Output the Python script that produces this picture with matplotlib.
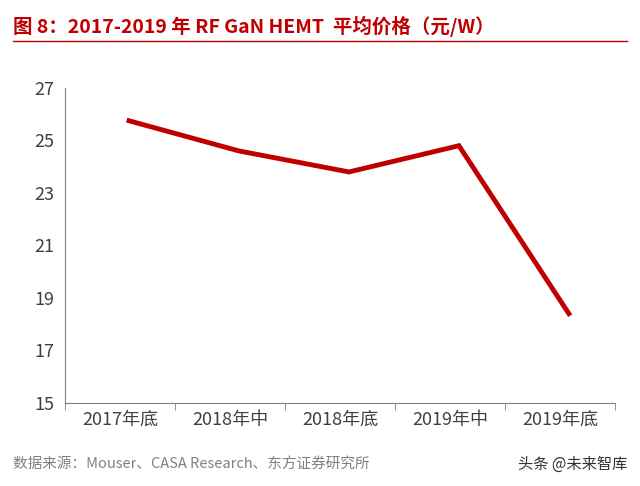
import matplotlib.pyplot as plt
import numpy as np

plt.rcParams['font.family'] = ['Noto Sans CJK SC', 'DejaVu Sans']

categories = ['2017年底', '2018年中', '2018年底', '2019年中', '2019年底']
prices = [25.75, 24.6, 23.8, 24.8, 18.4]
yticks = [15, 17, 19, 21, 23, 25, 27]

fig = plt.figure(figsize=(6.4, 4.86), dpi=100)
ax = fig.add_axes([0.102, 0.171, 0.859, 0.648])

x = np.arange(len(categories))
ax.plot(x + 0.08, prices, color='#c00000', linewidth=3.5, solid_joinstyle='miter')

ax.set_xlim(-0.5, len(categories) - 0.5)
ax.set_ylim(15, 27)
ax.set_yticks(yticks)
ax.set_xticks(x)
ax.set_xticklabels(categories, fontsize=13, color='#404040')
ax.set_xticks(np.arange(-0.5, len(categories)), minor=True)
ax.tick_params(axis='x', which='major', length=0, pad=6)
ax.tick_params(axis='x', which='minor', length=5, color='#808080')
ax.tick_params(axis='y', labelsize=13, labelcolor='#404040', length=0, pad=8)
for s in ['top', 'right']:
    ax.spines[s].set_visible(False)
for s in ['left', 'bottom']:
    ax.spines[s].set_color('#808080')

fig.text(0.02, 0.945, '图 8：2017-2019 年 RF GaN HEMT  平均价格（元/W）',
         fontsize=14, fontweight='bold', color='#c00000', va='center')
fig.add_artist(plt.Line2D([0.02, 0.98], [0.915, 0.915], color='#c00000', linewidth=1))
fig.text(0.02, 0.045, '数据来源：Mouser、CASA Research、东方证券研究所',
         fontsize=10.5, color='#808080', va='center')
fig.text(0.98, 0.045, '头条 @未来智库', fontsize=11, color='#333333',
         va='center', ha='right')

fig.savefig('out.png', dpi=100)
